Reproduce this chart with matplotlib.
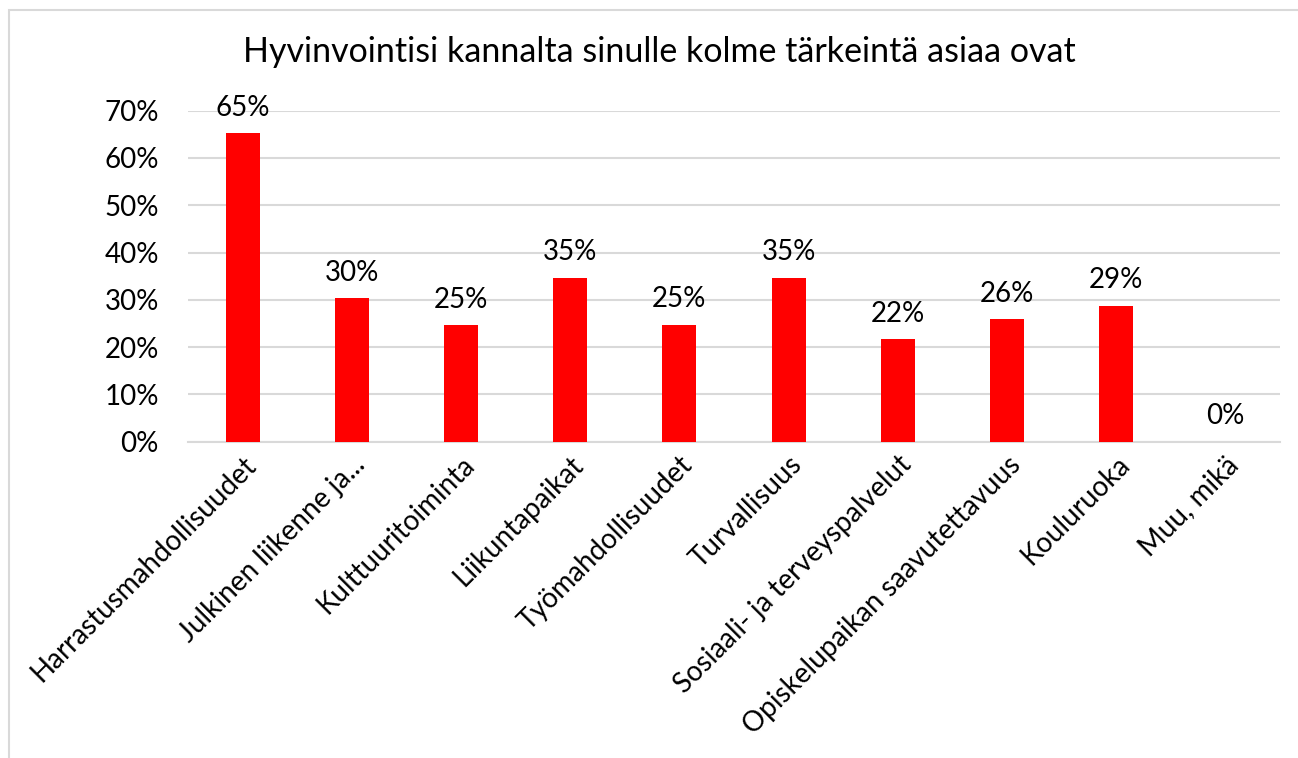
import numpy as np
import matplotlib.pyplot as plt
from matplotlib.patches import Rectangle
from matplotlib.ticker import PercentFormatter

plt.rcParams['font.family'] = ['Lato', 'DejaVu Sans']

# data
kategoriat = ['Harrastusmahdollisuudet', 'Julkinen liikenne ja...', 'Kulttuuritoiminta',
              'Liikuntapaikat', 'Työmahdollisuudet', 'Turvallisuus',
              'Sosiaali- ja terveyspalvelut', 'Opiskelupaikan saavutettavuus',
              'Kouluruoka', 'Muu, mikä']
osuudet = [0.652, 0.303, 0.246, 0.347, 0.247, 0.347, 0.217, 0.259, 0.288, 0.0]
otsikko = 'Hyvinvointisi kannalta sinulle kolme tärkeintä asiaa ovat'

W, H = 1298, 758
fig = plt.figure(figsize=(W / 100, H / 100), dpi=100)
ax = fig.add_axes([188 / W, (H - 441.7) / H, (1280 - 188) / W, 331 / H])

# ramka kuvan ympärillä
fig.patches.append(Rectangle((9 / W, -0.1), 1.2, (H - 10) / H + 0.1, transform=fig.transFigure,
                             fill=False, edgecolor='#D9D9D9', linewidth=1.5))

x = np.arange(len(kategoriat))
ax.bar(x, osuudet, width=0.31, color='#FF0000', zorder=3)

for xi, v in zip(x, osuudet):
    ax.annotate(f'{v * 100:.0f}%', (xi, v), xytext=(0, 9), textcoords='offset points',
                ha='center', va='bottom', fontsize=20, color='black')

ax.set_xlim(-0.5, len(kategoriat) - 0.5)
ax.set_ylim(0, 0.7)
ax.set_yticks(np.arange(0, 0.71, 0.1))
ax.yaxis.set_major_formatter(PercentFormatter(1.0, decimals=0))
ax.grid(axis='y', color='#D9D9D9', linewidth=1.5, zorder=0)
for s in ['top', 'right', 'left']:
    ax.spines[s].set_visible(False)
ax.spines['bottom'].set_color('#D9D9D9')
ax.spines['bottom'].set_linewidth(1.5)
ax.tick_params(axis='y', length=0, labelsize=20, pad=21)
ax.tick_params(axis='x', length=0, labelsize=20, pad=7)

ax.set_xticks(x)
ax.set_xticklabels(kategoriat, rotation=45, ha='right', rotation_mode='anchor')

fig.text(0.5 + 10 / W, (H - 52) / H, otsikko, ha='center', va='center', fontsize=24.5)

fig.savefig('out.png', dpi=100)
